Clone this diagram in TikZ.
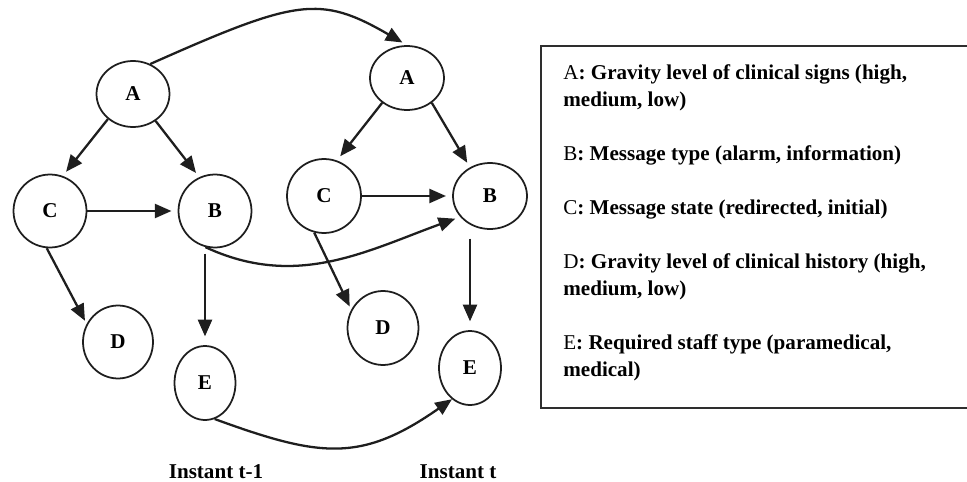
\documentclass[tikz,border=0pt]{standalone}
\usepackage{fontspec}
\setmainfont{Liberation Serif}
\usepackage{tikz}
\usetikzlibrary{shapes.geometric,arrows.meta}
\definecolor{inkDark}{HTML}{1E1E1E}
\definecolor{frameGray}{HTML}{2E2E2E}
\tikzset{
  varNode/.style={ellipse, draw=inkDark, line width=1pt, inner sep=0pt,
    minimum width=1.46cm, minimum height=1.46cm,
    font=\bfseries\fontsize{12}{14}\selectfont},
  flowArrow/.style={draw=inkDark, line width=1.3pt,
    -{Triangle[length=9.5pt,width=8pt]}},
  instantLabel/.style={anchor=base, inner sep=0pt,
    font=\bfseries\fontsize{12}{14}\selectfont}
}
\begin{document}
\begin{tikzpicture}[x=0.02cm, y=0.02cm]
    \useasboundingbox (0,0) rectangle (967,481);

    % instant t-1
    \node[varNode, minimum height=1.32cm] (a1) at (133,387) {A};
    \node[varNode] (c1) at (50,270) {C};
    \node[varNode] (b1) at (215,270) {B};
    \node[varNode, minimum width=1.40cm] (d1) at (118,139) {D};
    \node[varNode, minimum width=1.22cm, minimum height=1.48cm] (e1) at (205,98) {E};

    % instant t
    \node[varNode, minimum width=1.48cm, minimum height=1.28cm] (a2) at (407,403) {A};
    \node[varNode, minimum width=1.48cm, minimum height=1.48cm] (c2) at (324,285) {C};
    \node[varNode, minimum width=1.48cm, minimum height=1.32cm] (b2) at (490,285) {B};
    \node[varNode, minimum width=1.42cm, minimum height=1.48cm] (d2) at (383,153) {D};
    \node[varNode, minimum width=1.24cm, minimum height=1.48cm] (e2) at (470,113) {E};

    \draw[flowArrow, shorten >=3pt] (a1.225) -- (c1.70);
    \draw[flowArrow, shorten >=3pt] (a1.-50) -- (b1.115);
    \draw[flowArrow, shorten >=3.5pt] (c1) -- (b1);
    \draw[flowArrow, shorten >=2pt] (c1.265) -- (d1.150);
    \draw[flowArrow, shorten <=3pt, shorten >=5pt] (b1.south -| e1) -- (e1.north);

    \draw[flowArrow, shorten >=3pt] (a2.225) -- (c2.70);
    \draw[flowArrow, shorten >=3pt] (a2.-45) -- (b2.125);
    \draw[flowArrow, shorten >=3.5pt] (c2) -- (b2);
    \draw[flowArrow, shorten >=2pt] (c2.255) -- (d2.150);
    \draw[flowArrow, shorten <=5pt, shorten >=5pt] (b2.south -| e2) -- (e2.north);

    \draw[flowArrow, shorten >=3pt] (a1.60) to[out=24, in=150, out looseness=1.6] (a2.north);
    \draw[flowArrow, shorten >=3pt] (b1.255) to[out=-25, in=200] (b2.215);
    \draw[flowArrow] (e1.285) to[out=-20, in=215, looseness=1.2] (e2.240);

    \node[instantLabel] (tPrev) at (216,3) {Instant t-1};
    \node[instantLabel] (tNow) at (458,3) {Instant t};

    \draw[frameGray, line width=1.2pt] (541,435) rectangle (975,73);
    \node[anchor=north west, align=left, inner sep=0pt,
          font=\bfseries\fontsize{12}{15.37}\selectfont] (legend) at (563,416.7)
      {{\mdseries A}: Gravity level of clinical signs (high,\\
       medium, low)\\[15.37pt]
       {\mdseries B}: Message type (alarm, information)\\[15.37pt]
       {\mdseries C}: Message state (redirected, initial)\\[15.37pt]
       {\mdseries D}: Gravity level of clinical history (high,\\
       medium, low)\\[15.37pt]
       {\mdseries E}: Required staff type (paramedical,\\
       medical)};

\end{tikzpicture}
\end{document}
